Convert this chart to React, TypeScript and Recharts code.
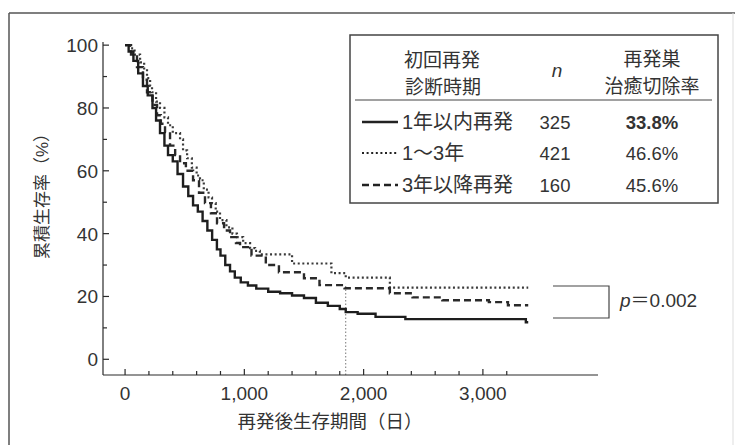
import React from "react";
import { LineChart, Line, XAxis, YAxis, ReferenceLine } from "recharts";

// ---- data (days after recurrence, cumulative survival %) ----
const within1yDays = [0, 30, 70, 110, 150, 190, 230, 260, 293, 330, 360, 400, 440, 486, 530, 570, 610, 650, 690, 730, 770, 800, 840, 880, 920, 970, 1030, 1100, 1200, 1300, 1400, 1500, 1600, 1700, 1800, 1850, 1950, 2100, 2350, 3360, 3380];
const within1yVals = [100, 98, 95, 91, 87, 84, 80, 76, 72, 68, 65, 63, 59, 55, 52, 49, 47, 44, 41, 38, 35, 33, 30, 28, 26, 24.5, 23.5, 22.5, 21.5, 21, 20.3, 19.5, 18, 17, 16, 15, 14.5, 13.5, 12.8, 11.8, 11.8];

const y1to3Days = [0, 40, 80, 126, 160, 184, 210, 226, 260, 293, 330, 360, 400, 461, 486, 520, 560, 600, 628, 660, 700, 729, 760, 796, 850, 900, 938, 990, 1048, 1090, 1130, 1400, 1730, 1850, 2220, 3380];
const y1to3Vals = [100, 99, 97, 94.5, 92, 89.5, 87, 85, 82, 80, 77, 74.5, 72, 70, 66.5, 64, 61, 58.5, 57, 54, 51.5, 49.7, 47, 44.3, 42, 40, 38.9, 37, 35.4, 34.5, 33.4, 30.5, 27.4, 26, 22.8, 22.8];

const after3yDays = [0, 50, 100, 150, 184, 230, 268, 300, 335, 377, 420, 461, 510, 570, 620, 670, 720, 771, 830, 880, 930, 964, 1060, 1180, 1290, 1500, 1630, 1840, 2220, 2410, 2660, 3050, 3210, 3380];
const after3yVals = [100, 97, 93, 89, 85, 81, 77.7, 75, 72.3, 68, 65, 62.4, 60, 57, 53, 49.7, 46.5, 43.3, 41, 38.9, 37, 35.7, 33, 30, 27.7, 25.8, 23.6, 22.6, 21, 19.7, 18.8, 18.2, 17.2, 17.2];

const groupLabels = ["1年以内再発", "1～3年", "3年以降再発"];
const groupN = ["325", "421", "160"];
const groupResection = ["33.8%", "46.6%", "45.6%"];

const xTicks = [0, 200, 400, 600, 800, 1000, 1200, 1400, 1600, 1800, 2000, 2200, 2400, 2600, 2800, 3000, 3200];
const xMajor = [0, 1000, 2000, 3000];
const yTicks = [0, 10, 20, 30, 40, 50, 60, 70, 80, 90, 100];
const yMajor = [0, 20, 40, 60, 80, 100];
const medianDay = 1850;
const medianTop = 24;
const pValueText = "0.002";

const toSeries = (days: number[], vals: number[]) => days.map((d, i) => ({ d, v: vals[i] }));
const within1y = toSeries(within1yDays, within1yVals);
const y1to3 = toSeries(y1to3Days, y1to3Vals);
const after3y = toSeries(after3yDays, after3yVals);

const FONT = "'Liberation Sans', Arial, 'Noto Sans CJK JP', sans-serif";
const INK = "#2a2a2a";
const TXT = "#333";

const fmt = (n: number) => n.toLocaleString("en-US");

const XTick = (props: any) => {
  const { x, y, payload } = props;
  const v = payload.value;
  const major = xMajor.includes(v);
  return (
    <g>
      <line x1={x} x2={x} y1={y} y2={y - (major ? 6 : 4)} stroke={INK} strokeWidth={1.2} />
      {major && (
        <text x={x} y={y + 25} textAnchor="middle" fontSize={19} fill={TXT} fontFamily={FONT}>
          {fmt(v)}
        </text>
      )}
    </g>
  );
};

const YTick = (props: any) => {
  const { x, y, payload } = props;
  const v = payload.value;
  const major = yMajor.includes(v);
  return (
    <g>
      <line x1={x} x2={x + (major ? 6 : 4)} y1={y} y2={y} stroke={INK} strokeWidth={1.2} />
      {major && (
        <text x={x - 5} y={y + 7} textAnchor="end" fontSize={19} fill={TXT} fontFamily={FONT}>
          {v}
        </text>
      )}
    </g>
  );
};

const dashes = [undefined, "2 2.6", "7 4"];
const widths = [2.4, 2.2, 2.4];

export default function App() {
  return (
    <div style={{ position: "absolute", left: 0, top: 0, width: 735, height: 445, background: "#fff", overflow: "hidden" }}>
      <LineChart width={735} height={445} margin={{ top: 42, right: 137, bottom: 0, left: 0 }}>
        <XAxis
          dataKey="d"
          type="number"
          domain={[-185, 3965]}
          ticks={xTicks}
          interval={0}
          tickSize={0}
          tickMargin={0}
          height={70}
          axisLine={{ stroke: INK, strokeWidth: 1.2 }}
          tick={XTick}
          allowDataOverflow
        />
        <YAxis
          type="number"
          domain={[-5, 101]}
          ticks={yTicks}
          interval={0}
          tickSize={0}
          tickMargin={0}
          width={103}
          axisLine={{ stroke: INK, strokeWidth: 1.2 }}
          tick={YTick}
          allowDataOverflow
        />
        <ReferenceLine
          segment={[{ x: medianDay, y: -5 }, { x: medianDay, y: medianTop }]}
          stroke="#777"
          strokeWidth={1}
          strokeDasharray="1.5 2"
        />
        <Line data={y1to3} dataKey="v" type="stepAfter" stroke="#3a3a3a" strokeWidth={widths[1]} strokeDasharray={dashes[1]} dot={false} isAnimationActive={false} />
        <Line data={after3y} dataKey="v" type="stepAfter" stroke="#2a2a2a" strokeWidth={widths[2]} strokeDasharray={dashes[2]} dot={false} isAnimationActive={false} />
        <Line data={within1y} dataKey="v" type="stepAfter" stroke="#1e1e1e" strokeWidth={widths[0]} dot={false} isAnimationActive={false} />
      </LineChart>
      <svg width={735} height={445} style={{ position: "absolute", left: 0, top: 0, pointerEvents: "none" }} fontFamily={FONT}>
        {/* outer frame */}
        <line x1={9} y1={13} x2={735} y2={13} stroke="#555" strokeWidth={1.5} />
        <line x1={9} y1={13} x2={9} y2={445} stroke="#555" strokeWidth={1.5} />
        <line x1={733} y1={13} x2={733} y2={445} stroke="#ddd" strokeWidth={1} />
        {/* axis titles */}
        <text x={0} y={0} transform="translate(48,192) rotate(-90)" textAnchor="middle" fontSize={17} fill={TXT}>累積生存率（%）</text>
        <text x={330} y={428} textAnchor="middle" fontSize={18.5} fill={TXT}>再発後生存期間（日）</text>
        {/* legend table */}
        <rect x={350} y={35} width={368} height={168} fill="#fff" stroke="#444" strokeWidth={1.5} />
        <line x1={355} y1={100} x2={712} y2={100} stroke="#444" strokeWidth={1.2} />
        <text x={442} y={67} textAnchor="middle" fontSize={19} fill={TXT}>初回再発</text>
        <text x={443} y={94} textAnchor="middle" fontSize={19} fill={TXT}>診断時期</text>
        <text x={557} y={77} textAnchor="middle" fontSize={19} fontStyle="italic" fill={TXT}>n</text>
        <text x={652} y={66} textAnchor="middle" fontSize={19} fill={TXT}>再発巣</text>
        <text x={652} y={93} textAnchor="middle" fontSize={19} fill={TXT}>治癒切除率</text>
        {groupLabels.map((g, i) => {
          const cy = [122, 153, 185][i];
          return (
            <g key={g}>
              <line x1={362} x2={398} y1={cy} y2={cy} stroke="#222" strokeWidth={widths[i]} strokeDasharray={dashes[i]} />
              <text x={402} y={cy + 7} fontSize={20} fill={TXT}>{g}</text>
              <text x={555} y={cy + 7} textAnchor="middle" fontSize={18.5} fill={TXT}>{groupN[i]}</text>
              <text x={652} y={cy + 7} textAnchor="middle" fontSize={18.5} fill={TXT} fontWeight={i === 0 ? "bold" : "normal"}>{groupResection[i]}</text>
            </g>
          );
        })}
        {/* p-value bracket */}
        <polyline points="553,286 609,286 609,318 553,318" fill="none" stroke="#444" strokeWidth={1.2} />
        <text x={620} y={307} fontSize={19} fill={TXT}>
          <tspan fontStyle="italic">p</tspan>
          <tspan>＝{pValueText}</tspan>
        </text>
      </svg>
    </div>
  );
}
